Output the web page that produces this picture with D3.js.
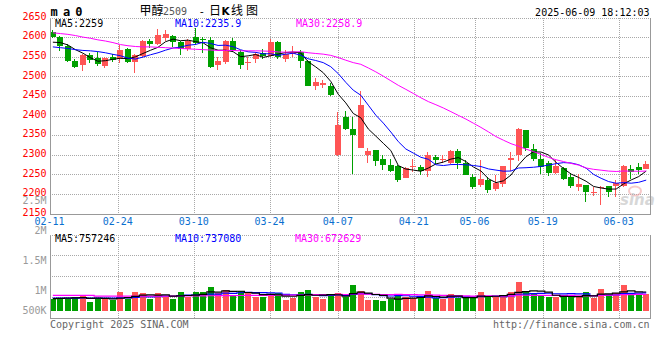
<!DOCTYPE html>
<html><head><meta charset="utf-8">
<script src="https://cdn.jsdelivr.net/npm/d3@7"></script>
<style>html,body{margin:0;padding:0;background:#fff;}svg{display:block;}</style>
</head><body>
<svg id="c" width="660" height="360"></svg>
<script>
// ---------------- DATA ----------------
const dates = ["02-11","02-12","02-13","02-14","02-17","02-18","02-19","02-20","02-21","02-24",
"02-25","02-26","02-27","02-28","03-03","03-04","03-05","03-06","03-07","03-10",
"03-11","03-12","03-13","03-14","03-17","03-18","03-19","03-20","03-21","03-24",
"03-25","03-26","03-27","03-28","03-31","04-01","04-02","04-03","04-07","04-08",
"04-09","04-10","04-11","04-14","04-15","04-16","04-17","04-18","04-21","04-22",
"04-23","04-24","04-25","04-28","04-29","04-30","05-06","05-07","05-08","05-09",
"05-12","05-13","05-14","05-15","05-16","05-19","05-20","05-21","05-22","05-23",
"05-26","05-27","05-28","05-29","05-30","06-03","06-04","06-05","06-06","06-09"];
const xTickDates = ["02-11","02-24","03-10","03-24","04-07","04-21","05-06","05-19","06-03"];

const open = [2613,2600,2578,2539,2529,2555,2547,2527,2549,2545,
2570,2537,2551,2591,2582,2598,2603,2588,2569,2600,
2595,2593,2530,2537,2590,2561,2533,2543,2560,2551,
2588,2545,2556,2561,2540,2476,2479,2475,2298,2395,
2366,2318,2299,2312,2289,2274,2272,2241,2270,2269,
2259,2293,2287,2278,2310,2280,2242,2222,2235,2212,
2225,2287,2298,2363,2314,2289,2279,2253,2267,2244,
2218,2222,2204,2214,2221,2219,2220,2264,2269,2264];
const high = [2617,2603,2582,2545,2556,2559,2561,2549,2556,2579,
2573,2557,2593,2595,2621,2618,2606,2591,2595,2624,
2600,2599,2550,2593,2598,2568,2550,2562,2570,2595,
2589,2567,2577,2568,2541,2495,2491,2484,2409,2412,
2397,2462,2318,2312,2299,2289,2273,2269,2289,2274,
2306,2299,2298,2312,2315,2287,2250,2287,2244,2247,
2272,2307,2368,2364,2327,2304,2285,2287,2268,2253,
2250,2223,2218,2220,2221,2236,2273,2274,2279,2284];
const low = [2597,2565,2536,2520,2514,2535,2526,2522,2537,2535,
2533,2509,2549,2573,2580,2590,2575,2555,2564,2580,
2560,2520,2517,2532,2561,2519,2515,2533,2543,2550,
2543,2537,2548,2521,2475,2465,2469,2449,2296,2363,
2251,2316,2280,2272,2261,2256,2231,2240,2257,2249,
2242,2276,2278,2277,2264,2247,2212,2218,2202,2207,
2218,2258,2285,2309,2285,2250,2246,2250,2236,2216,
2208,2180,2195,2172,2193,2192,2218,2239,2252,2263];
const close = [2599,2578,2540,2524,2554,2542,2532,2547,2542,2567,
2537,2555,2590,2583,2605,2608,2588,2570,2590,2586,
2593,2525,2539,2590,2567,2529,2536,2556,2553,2588,
2550,2556,2563,2540,2476,2485,2482,2452,2376,2366,
2350,2427,2309,2285,2274,2258,2235,2265,2272,2259,
2299,2287,2289,2310,2278,2248,2218,2238,2211,2229,
2271,2292,2366,2317,2290,2269,2254,2272,2238,2220,
2226,2205,2206,2218,2206,2227,2271,2256,2261,2276];

const ma5 = [2587,2586,2580,2568,2559,2547.6,2538.4,2539.8,2543.4,2546,
2545,2549.6,2558.2,2566.4,2574,2588.2,2594.8,2590.8,2592.2,2588.4,
2585.4,2572.8,2566.6,2566.6,2562.8,2550,2552.2,2555.6,2548.2,2552.4,
2556.6,2560.6,2562,2559.4,2537,2524,2509.2,2487,2454.2,2432.2,
2405.2,2394.2,2365.6,2347.4,2329,2310.6,2272.2,2263.4,2260.8,2257.8,
2266,2276.4,2281.2,2288.8,2292.6,2282.4,2268.6,2258.4,2238.6,2228.8,
2233.4,2248.2,2273.8,2295,2307.2,2306.8,2299.2,2280.4,2264.6,2250.6,
2242,2232.2,2219,2215,2212.2,2212.4,2225.6,2235.6,2244.2,2258.2];
const ma10 = [2575,2573,2571,2568,2566,2565,2563,2560,2556,2552.5,
2546.3,2544,2549,2554.9,2560,2566.6,2572.2,2574.5,2579.3,2581.2,
2586.8,2583.8,2578.7,2579.4,2575.6,2567.7,2562.5,2561.1,2557.4,2557.6,
2553.3,2556.4,2558.8,2553.8,2544.7,2540.3,2534.9,2524.5,2506.8,2484.6,
2464.6,2451.7,2426.3,2400.8,2380.6,2357.9,2333.2,2314.5,2304.1,2293.4,
2288.3,2274.3,2272.3,2274.8,2275.2,2274.2,2272.5,2269.8,2263.7,2260.7,
2257.9,2258.4,2266.1,2266.8,2268,2270.1,2273.7,2277.1,2279.8,2278.9,
2274.4,2265.7,2249.7,2239.8,2231.4,2227.2,2228.9,2227.3,2229.6,2235.2];
const ma30 = [2611,2609,2607,2604,2600,2597,2593,2590,2586,2581,
2578,2576,2575,2575,2574,2573,2572,2571,2570,2569,
2568,2567,2566,2566,2566,2565,2565,2565,2564.5,2563.8,
2562.1,2561.4,2562.2,2562.7,2560.1,2558.2,2556.5,2553.4,2547.8,2541.1,
2534.9,2530.6,2521.3,2511.3,2500.3,2488.6,2476.9,2466.7,2456.1,2445.2,
2435.4,2427.5,2419.1,2409.8,2400.2,2390.8,2380.2,2369.6,2358.2,2346.2,
2336.9,2328.1,2321.6,2314.1,2307.9,2300.7,2293.1,2287.1,2282.5,2277.7,
2273.5,2266.1,2262.7,2260.5,2258.2,2257.2,2258.4,2258.1,2257.7,2258.3];

const volume = [494000,494000,494000,551000,645000,359000,522000,469000,441000,767000,
494000,767000,714000,494000,714000,576000,494000,767000,576000,767000,
767000,971000,714000,849000,645000,808000,714000,576000,576000,686000,
727000,441000,535000,767000,849000,576000,482000,645000,727000,576000,
1053000,820000,441000,441000,400000,469000,645000,576000,510000,510000,
808000,510000,469000,686000,510000,510000,510000,767000,616000,563000,
645000,767000,1188000,767000,686000,592000,576000,551000,551000,645000,
576000,767000,522000,890000,686000,727000,1053000,714000,673000,673000];
const volMa5 = [500,510,520,530,536,509,514,509,487,512,
539,588,637,647,637,653,598,609,625,636,
674,770,759,814,789,797,746,718,664,672,
656,601,593,631,664,634,642,664,656,601,
697,764,723,666,631,514,479,506,520,542,
610,583,561,597,597,537,537,597,583,593,
620,672,756,786,811,800,762,634,591,583,
580,618,612,680,688,718,776,814,771,768];
const volMa10 = [520,515,515,520,525,520,520,520,520,524,
524,551,573,567,574,596,593,623,636,636,
664,684,684,720,713,736,758,739,739,731,
727,674,656,648,668,645,622,628,644,633,
665,703,694,661,616,605,622,615,593,587,
562,531,534,558,569,573,560,579,590,595,
579,604,676,684,702,710,717,695,689,697,
690,690,623,636,636,649,697,713,725,728];
const volMa30 = [630,630,630,630,630,630,600,600,598,598,
598,597,597,598,600,600,602,604,606,608,
612,615,618,620,622,624,626,628,629,630,
638,636,638,645,652,659,657,663,673,666,
685,687,678,676,666,662,667,661,658,650,
651,636,628,622,618,608,601,607,609,605,
602,613,635,635,629,630,633,630,624,626,
610,608,611,626,636,644,658,662,668,673];

const priceTicks = [2650,2600,2550,2500,2450,2400,2350,2300,2250,2200,2150];
const volTicks = [2500000,2000000,1500000,1000000,500000];
const volTickLabels = ["2.5M","2M","1.5M","1M","500K"];
const priceLegend = ["MA5:2259","MA10:2235.9","MA30:2258.9"];
const volLegend = ["MA5:757246","MA10:737080","MA30:672629"];
const lineColors = ["#000000","#0000ff","#ff00ff"];

// ---------------- LAYOUT ----------------
const L = 50, R = 649.5;
const pTop = 17.5, pBot = 213.5;
const vTop = 234.5, vBot = 317.5;
const UP = "#ff5555", DOWN = "#00a000";
const MONO = "'DejaVu Sans Mono', monospace";
const CJK = "'Noto Sans CJK SC', sans-serif";
const n = dates.length;

const svg = d3.select("#c");
const xc = d3.scaleLinear().domain([0, n - 1]).range([52.85, 646.2]);
const xg = d3.scaleLinear().domain([0, n - 1]).range([L, R]);
const y = d3.scaleLinear().domain([2150, 2650]).range([pBot, pTop]);
const yv = d3.scaleLinear().domain([0, 1000000]).range([310.8, 286.3]);
const yvLab = d3.scaleLinear().domain([500000, 2500000]).range([319.8, 200.7]);

const crisp = v => Math.round(v) + 0.5;
const gridStyle = s => s.attr("stroke", "#a8a8a8").attr("stroke-width", 1)
  .attr("stroke-dasharray", "1,1").attr("shape-rendering", "crispEdges");

// grid (price)
const g = svg.append("g");
priceTicks.slice(0, -1).forEach(t => {
  g.append("line").attr("x1", L).attr("x2", R).attr("y1", crisp(y(t))).attr("y2", crisp(y(t))).call(gridStyle);
});
// grid (volume)
d3.range(0, 4).forEach(k => {
  const yy = crisp(vTop + k * (vBot - vTop) / 4);
  g.append("line").attr("x1", L).attr("x2", R).attr("y1", yy).attr("y2", yy).call(gridStyle);
});
// vertical grid
const tickIdx = xTickDates.map(d => dates.indexOf(d));
tickIdx.slice(1).forEach(i => {
  const xx = crisp(xg(i));
  g.append("line").attr("x1", xx).attr("x2", xx).attr("y1", pTop).attr("y2", pBot).call(gridStyle);
  g.append("line").attr("x1", xx).attr("x2", xx).attr("y1", vTop).attr("y2", vBot).call(gridStyle);
});

// watermark
const wm = svg.append("g").attr("opacity", 0.55);
wm.append("ellipse").attr("cx", 635).attr("cy", 191).attr("rx", 6).attr("ry", 4.5)
  .attr("fill", "none").attr("stroke", "#f0a0a0").attr("stroke-width", 2);
wm.append("text").attr("x", 620).attr("y", 205).attr("font-family", "'DejaVu Sans', sans-serif")
  .attr("font-size", 15).attr("font-weight", "bold").attr("font-style", "italic")
  .attr("fill", "#b8b8b8").text("sina");

// candles
const cg = svg.append("g").attr("shape-rendering", "crispEdges");
d3.range(n).forEach(i => {
  const up = close[i] >= open[i];
  const col = up ? UP : DOWN;
  const x0 = Math.round(xc(i) - 3);
  cg.append("rect").attr("x", x0 + 2).attr("width", 1)
    .attr("y", Math.round(y(high[i]))).attr("height", Math.max(1, Math.round(y(low[i])) - Math.round(y(high[i]))))
    .attr("fill", col);
  const top = Math.round(y(Math.max(open[i], close[i])));
  const bot = Math.round(y(Math.min(open[i], close[i])));
  cg.append("rect").attr("x", x0).attr("width", 6)
    .attr("y", top).attr("height", Math.max(1, bot - top)).attr("fill", col);
});

// MA lines (price)
const line = d3.line().x((d, i) => xc(i)).y(d => y(d));
[ma5, ma10, ma30].forEach((arr, k) => {
  svg.append("path").datum(arr).attr("d", line).attr("fill", "none")
    .attr("stroke", lineColors[k]).attr("stroke-width", 1);
});

// volume bars
const vg = svg.append("g").attr("shape-rendering", "crispEdges");
d3.range(n).forEach(i => {
  const col = close[i] >= open[i] ? UP : DOWN;
  const x0 = Math.round(xc(i) - 3);
  const t = Math.round(yv(volume[i]));
  vg.append("rect").attr("x", x0).attr("width", 6).attr("y", t)
    .attr("height", Math.round(yv(0)) - t).attr("fill", col);
});
// volume MA lines
const vline = d3.line().x((d, i) => xc(i)).y(d => yv(d * 1000)).curve(d3.curveStep);
[volMa10, volMa30, volMa5].forEach((arr, k) => {
  const c = [lineColors[1], lineColors[2], lineColors[0]][k];
  svg.append("path").datum(arr).attr("d", vline).attr("fill", "none")
    .attr("stroke", c).attr("stroke-width", 1.2);
});

// borders
const bd = svg.append("g").attr("stroke", "#999").attr("stroke-width", 1).attr("shape-rendering", "crispEdges").attr("fill", "none");
[[pTop, pBot], [vTop, vBot]].forEach(([t, b]) => {
  bd.append("line").attr("x1", crisp(L)).attr("x2", crisp(L)).attr("y1", t).attr("y2", b + 1);
  bd.append("line").attr("x1", crisp(R)).attr("x2", crisp(R)).attr("y1", t).attr("y2", b + 1);
  bd.append("line").attr("x1", L).attr("x2", R + 1).attr("y1", crisp(b)).attr("y2", crisp(b)).attr("stroke-width", 1.5);
  bd.append("line").attr("x1", L).attr("x2", R).attr("y1", crisp(t)).attr("y2", crisp(t))
    .attr("stroke", "#a8a8a8").attr("stroke-dasharray", "1,1");
});

// ---------------- TEXT ----------------
const txt = (x, yy, s, col, anchor) => svg.append("text").attr("x", x).attr("y", yy)
  .attr("font-family", MONO).attr("font-size", 10).attr("fill", col || "#000")
  .attr("text-anchor", anchor || "start").text(s);

// price axis labels
priceTicks.forEach(t => txt(46.5, y(t) + 2.2, t, "#ff0000", "end"));
// volume axis labels
volTicks.forEach((v, k) => txt(46.5, Math.min(yvLab(v), 310) + 3.6, volTickLabels[k], "#9a9a9a", "end"));
// x axis labels
tickIdx.forEach((i, k) => txt(xg(i) - 0.5, 225.2, xTickDates[k], "#0a6fcf", "middle"));

// legends
[55, 175, 296].forEach((x, k) => txt(x, 27, priceLegend[k], lineColors[k]));
[55, 175, 295].forEach((x, k) => txt(x, 241.8, volLegend[k], lineColors[k]));

// header
svg.append("text").attr("x", 50.5).attr("y", 15.5).attr("font-family", MONO)
  .attr("font-size", 12).attr("font-weight", "bold").attr("letter-spacing", 5.2).text("ma0");
const titleParts = [
  {t: "甲醇", x: 139.5, f: CJK, s: 12, c: "#000", w: "normal"},
  {t: "2509", x: 163, f: MONO, s: 10, c: "#555", w: "normal"},
  {t: "-", x: 198.5, f: MONO, s: 11, c: "#000", w: "normal"},
  {t: "日", x: 209, f: CJK, s: 12, c: "#000", w: "normal"},
  {t: "K", x: 221.5, f: "'DejaVu Sans', sans-serif", s: 10.5, c: "#000", w: "bold"},
  {t: "线图", x: 231, f: CJK, s: 12, c: "#000", w: "normal"}
];
const title = svg.append("text").attr("y", 14.5).attr("font-family", CJK);
titleParts.forEach(p => title.append("tspan").attr("x", p.x).attr("font-family", p.f)
  .attr("font-size", p.s).attr("fill", p.c).attr("font-weight", p.w)
  .attr("letter-spacing", p.t === "线图" ? 3 : 0).text(p.t));
txt(649.5, 15.5, "2025-06-09 18:12:03", "#000", "end");

// footer
txt(50, 328, "Copyright 2025 SINA.COM", "#666");
txt(649.5, 328, "http://finance.sina.com.cn", "#666", "end");
</script>
</body></html>
